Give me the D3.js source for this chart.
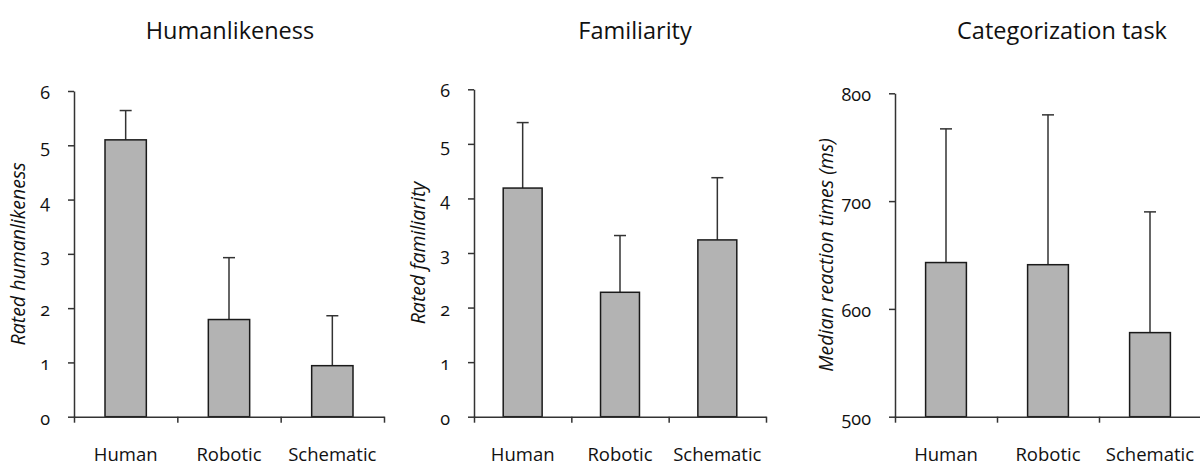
<!DOCTYPE html>
<html lang="en">
<head>
    <meta charset="UTF-8">
    <title>Ratings and reaction times</title>
    <script src="https://cdn.jsdelivr.net/npm/d3@7"></script>
    <style>
        body { margin: 0; background: #fff; }
        svg text { font-family: "Open Sans", sans-serif; fill: #111; font-variant-numeric: oldstyle-nums; }
    </style>
</head>
<body>
    <svg width="1200" height="464"></svg>
    <script>
        // categories on the x axis (same for all three panels)
        var categories = ['Human', 'Robotic', 'Schematic'];

        // Humanlikeness: mean rating and upper error
        var humanMeans = [5.10, 1.79, 0.94];
        var humanErrors = [0.54, 1.14, 0.92];
        var humanTicks = [0, 1, 2, 3, 4, 5, 6];

        // Familiarity
        var famMeans = [4.19, 2.28, 3.24];
        var famErrors = [1.20, 1.04, 1.14];
        var famTicks = [0, 1, 2, 3, 4, 5, 6];

        // Categorization task: median reaction times (ms)
        var rtMeans = [643, 641, 578];
        var rtErrors = [124, 139, 112];
        var rtTicks = [500, 600, 700, 800];

        var panels = [
            { title: 'Humanlikeness', ylabel: 'Rated humanlikeness', means: humanMeans, errors: humanErrors,
              ticks: humanTicks, domain: [0, 6], left: 74, right: 384, top: 91, titleX: 230, labelX: 25 },
            { title: 'Familiarity', ylabel: 'Rated familiarity', means: famMeans, errors: famErrors,
              ticks: famTicks, domain: [0, 6], left: 474, right: 766, top: 89.3, titleX: 635, labelX: 425 },
            { title: 'Categorization task', ylabel: 'Median reaction times (ms)', means: rtMeans, errors: rtErrors,
              ticks: rtTicks, domain: [500, 800], left: 895, right: 1201, top: 93.3, titleX: 1062, labelX: 833 }
        ];

        var bottom = 416.7;
        var svg = d3.select('svg');

        panels.forEach(function (p) {
            var g = svg.append('g');

            var x = d3.scaleBand().domain(categories).range([p.left, p.right])
                .paddingInner(0.6).paddingOuter(0.3);
            var y = d3.scaleLinear().domain(p.domain).range([bottom, p.top]);

            // title
            g.append('text')
                .attr('x', p.titleX).attr('y', 39)
                .attr('text-anchor', 'middle')
                .style('font-size', '23.5px')
                .text(p.title);

            // y axis label
            g.append('text')
                .attr('transform', 'translate(' + p.labelX + ',' + (bottom + p.top) / 2 + ') rotate(-90)')
                .attr('text-anchor', 'middle')
                .style('font-size', '19.5px')
                .style('font-style', 'italic')
                .text(p.ylabel);

            // bars
            var data = categories.map(function (c, i) { return { cat: c, v: p.means[i], e: p.errors[i] }; });

            // error bars (upper only)
            var eb = g.selectAll('.err').data(data).enter().append('g');
            eb.append('line')
                .attr('x1', function (d) { return x(d.cat) + x.bandwidth() / 2; })
                .attr('x2', function (d) { return x(d.cat) + x.bandwidth() / 2; })
                .attr('y1', function (d) { return y(d.v); })
                .attr('y2', function (d) { return y(d.v + d.e); })
                .attr('stroke', '#333').attr('stroke-width', 1.5);
            eb.append('line')
                .attr('x1', function (d) { return x(d.cat) + x.bandwidth() / 2 - 6; })
                .attr('x2', function (d) { return x(d.cat) + x.bandwidth() / 2 + 6; })
                .attr('y1', function (d) { return y(d.v + d.e); })
                .attr('y2', function (d) { return y(d.v + d.e); })
                .attr('stroke', '#333').attr('stroke-width', 1.5);

            g.selectAll('.bar').data(data).enter().append('rect')
                .attr('x', function (d) { return x(d.cat); })
                .attr('y', function (d) { return y(d.v); })
                .attr('width', x.bandwidth())
                .attr('height', function (d) { return bottom - y(d.v); })
                .attr('fill', '#b3b3b3')
                .attr('stroke', '#1a1a1a')
                .attr('stroke-width', 1.5);

            // y axis
            var ay = g.append('g')
                .attr('transform', 'translate(' + p.left + ',0)')
                .call(d3.axisLeft(y).tickValues(p.ticks).tickFormat(d3.format('d')).tickSize(6).tickSizeOuter(0).tickPadding(18));
            ay.selectAll('text').attr('dy', '0.42em').style('font-size', '18px').attr('font-family', null);

            // x axis: ticks at the band boundaries
            var xb = d3.scaleLinear().domain([0, categories.length]).range([p.left, p.right]);
            g.append('g')
                .attr('transform', 'translate(0,' + bottom + ')')
                .call(d3.axisBottom(xb).tickValues(d3.range(categories.length + 1)).tickFormat('').tickSize(6).tickSizeOuter(0));

            // category labels
            var ax = g.append('g')
                .attr('transform', 'translate(0,' + bottom + ')')
                .call(d3.axisBottom(x).tickSize(0).tickPadding(31));
            ax.select('.domain').remove();
            ax.selectAll('text').style('font-size', '18.5px').attr('font-family', null);

            g.selectAll('.domain, .tick line').attr('stroke', '#333').attr('stroke-width', 1.5);
        });
    </script>
</body>
</html>
